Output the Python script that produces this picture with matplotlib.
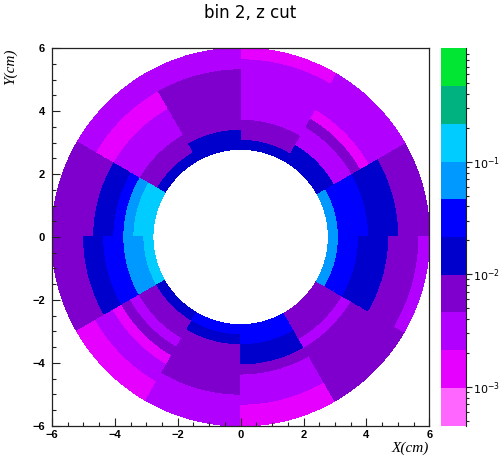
import numpy as np
import matplotlib
matplotlib.use("Agg")
import matplotlib.pyplot as plt
from matplotlib.patches import Wedge
from matplotlib.collections import PatchCollection
from matplotlib.colors import ListedColormap, LogNorm
from matplotlib.ticker import MultipleLocator, LogLocator, NullFormatter, FixedLocator, LogFormatterSciNotation

# Radial layer edges (cm) and azimuthal sector edges (deg, counter-clockwise from +x)
r_edges = [2.8, 3.12, 3.44, 3.76, 4.08, 4.40, 4.72, 5.04, 5.36, 5.68, 6.0]
phi_edges = [0, 30, 60, 90, 120, 150, 180, 210, 240, 270, 300, 330, 360]

# Per-cell content, one list per radial layer (innermost first), 12 sectors each
layer_1 = [0.070, 0.015, 0.015, 0.015, 0.015, 0.15, 0.15, 0.015, 0.032, 0.032, 0.0065, 0.070]
layer_2 = [0.032, 0.015, 0.0065, 0.015, 0.0065, 0.15, 0.070, 0.0065, 0.015, 0.032, 0.0065, 0.032]
layer_3 = [0.032, 0.003, 0.0065, 0.0065, 0.0065, 0.070, 0.070, 0.0065, 0.0065, 0.015, 0.0065, 0.032]
layer_4 = [0.032, 0.003, 0.003, 0.0065, 0.003, 0.032, 0.032, 0.003, 0.0065, 0.015, 0.003, 0.015]
layer_5 = [0.015, 0.0065, 0.003, 0.0065, 0.003, 0.015, 0.032, 0.0065, 0.0065, 0.0065, 0.0065, 0.015]
layer_6 = [0.015, 0.0014, 0.003, 0.0065, 0.003, 0.015, 0.015, 0.0014, 0.0065, 0.003, 0.0065, 0.015]
layer_7 = [0.015, 0.003, 0.003, 0.0065, 0.0014, 0.0065, 0.015, 0.003, 0.0065, 0.003, 0.0065, 0.0065]
layer_8 = [0.0065, 0.003, 0.003, 0.0065, 0.0014, 0.0065, 0.0065, 0.003, 0.003, 0.003, 0.0065, 0.0065]
layer_9 = [0.0065, 0.003, 0.003, 0.003, 0.003, 0.0065, 0.0065, 0.0014, 0.003, 0.0014, 0.0065, 0.0065]
layer_10 = [0.0065, 0.003, 0.0014, 0.003, 0.003, 0.0065, 0.0065, 0.0014, 0.003, 0.0014, 0.0065, 0.003]

layers = [layer_1, layer_2, layer_3, layer_4, layer_5,
          layer_6, layer_7, layer_8, layer_9, layer_10]

# Colour axis range and the 10-step palette
z_min, z_max = 10 ** -3.347, 10 ** 0.008
palette = ["#FF66FF", "#E600FF", "#B200FF", "#7F00CC", "#0000CC",
           "#0000FF", "#0099FF", "#00CCFF", "#00B280", "#00E633"]

W, H = 500, 457
fig = plt.figure(figsize=(W / 100, H / 100), dpi=100)

ax_l, ax_r, ax_t, ax_b = 52, 429.3, 48.3, 425.7
ax = fig.add_axes([ax_l / W, 1 - ax_b / H, (ax_r - ax_l) / W, (ax_b - ax_t) / H])

patches, values = [], []
for k, row in enumerate(layers):
    r_in, r_out = r_edges[k], r_edges[k + 1]
    for s, v in enumerate(row):
        patches.append(Wedge((0, 0), r_out, phi_edges[s], phi_edges[s + 1], width=r_out - r_in))
        values.append(v)

cmap = ListedColormap(palette)
norm = LogNorm(vmin=z_min, vmax=z_max)
pc = PatchCollection(patches, cmap=cmap, norm=norm, edgecolor="face",
                     linewidths=0.5, antialiaseds=False)
pc.set_array(np.array(values))
ax.add_collection(pc)

ax.set_xlim(-6, 6)
ax.set_ylim(-6, 6)
for sp in ax.spines.values():
    sp.set_linewidth(0.9)
    sp.set_color("#222222")

ax.xaxis.set_major_locator(MultipleLocator(2))
ax.xaxis.set_minor_locator(MultipleLocator(0.5))
ax.yaxis.set_major_locator(MultipleLocator(2))
ax.yaxis.set_minor_locator(MultipleLocator(0.5))
ax.tick_params(which="both", direction="in", top=False, right=False, color="#222222", width=0.8)
ax.tick_params(which="major", length=5.8, labelsize=8)
ax.tick_params(axis="x", which="major", pad=3)
ax.tick_params(axis="y", which="major", pad=5)
ax.tick_params(which="minor", length=2.9)
for lab in ax.get_xticklabels() + ax.get_yticklabels():
    lab.set_fontfamily("Liberation Sans")
    lab.set_fontweight("bold")

fig.text(ax_r / W, 1 - 452 / H, "X(cm)", ha="right", va="baseline",
         family="Liberation Serif", style="italic", size=11)
fig.text(4 / W, 1 - 48.5 / H, "Y(cm)", ha="left", va="top", rotation=90,
         family="Liberation Serif", style="italic", size=11)
fig.text(0.5, 1 - 18 / H, "bin 2, z cut", ha="center", va="baseline",
         family="DejaVu Sans", size=12)

# Colour scale
cb_l, cb_r = 441, 465.7
cax = fig.add_axes([cb_l / W, 1 - ax_b / H, (cb_r - cb_l) / W, (ax_b - ax_t) / H])
cb = fig.colorbar(pc, cax=cax)
cb.outline.set_visible(False)
cax.spines["right"].set_visible(True)
cax.spines["right"].set_linewidth(0.8)
cax.spines["right"].set_color("#222222")
cax.yaxis.set_ticks_position("right")
cax.yaxis.set_major_locator(FixedLocator([1e-3, 1e-2, 1e-1]))
cax.yaxis.set_major_formatter(LogFormatterSciNotation())
cax.yaxis.set_minor_locator(LogLocator(base=10, subs=np.arange(2, 10)))
cax.yaxis.set_minor_formatter(NullFormatter())
cax.tick_params(which="both", direction="out", color="#222222", width=0.8)
cax.tick_params(which="major", length=4.5, labelsize=8, pad=0.5)
cax.tick_params(which="minor", length=2.5)

fig.savefig("out.png", dpi=100)
